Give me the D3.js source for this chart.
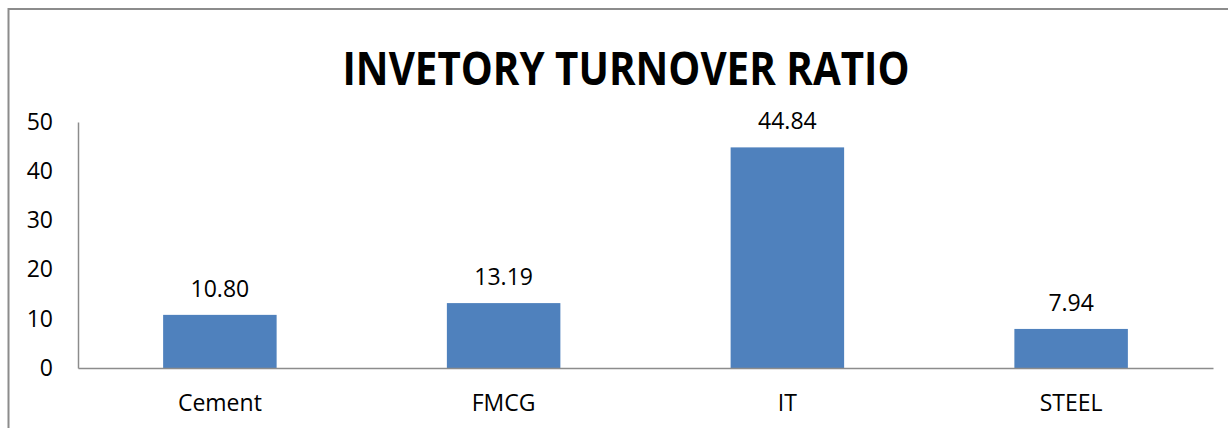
<!DOCTYPE html>
<html lang="en">
    <head>
        <meta charset="utf-8">
        <title>Inventory Turnover Ratio</title>
        <script src="https://d3js.org/d3.v7.min.js"></script>
        <style>
            body {
                margin: 0;
                background-color: #FFFFFF;
            }
            svg {
                display: block;
                font-family: "Open Sans", "Liberation Sans", sans-serif;
            }
        </style>
    </head>
    <body>
        <svg id="chart"></svg>

        <script>
            //data
            const categories = ["Cement", "FMCG", "IT", "STEEL"];
            const ratios = [10.80, 13.19, 44.84, 7.94];
            const yTicks = [0, 10, 20, 30, 40, 50];

            //chart dimensions
            const width = 1228;
            const height = 428;
            const plot = { left: 78, right: 1213, top: 122, bottom: 368 };
            const labelSize = 23;

            const svg = d3.select("#chart")
                .attr("width", width)
                .attr("height", height);

            //outer frame
            svg.append("rect")
                .attr("x", 8.5)
                .attr("y", 9)
                .attr("width", 1240)
                .attr("height", 440)
                .attr("fill", "none")
                .attr("stroke", "#8C8C8C")
                .attr("stroke-width", 2);

            //title
            svg.append("text")
                .attr("x", 626)
                .attr("y", 85)
                .attr("text-anchor", "middle")
                .attr("font-size", 47)
                .attr("font-weight", "bold")
                .attr("textLength", 567)
                .attr("lengthAdjust", "spacingAndGlyphs")
                .attr("fill", "#000")
                .text("INVETORY TURNOVER RATIO");

            //x and y scale
            const xScale = d3.scaleBand()
                .domain(categories)
                .range([plot.left, plot.right])
                .paddingInner(0.6)
                .paddingOuter(0.3);

            const yScale = d3.scaleLinear()
                .domain([0, 50])
                .range([plot.bottom, plot.top]);

            //y axis
            const yAxis = d3.axisLeft(yScale)
                .tickValues(yTicks)
                .tickSize(0)
                .tickPadding(25);

            const gy = svg.append("g")
                .attr("transform", `translate(${plot.left}, 0)`)
                .call(yAxis);
            gy.select(".domain").attr("stroke", "#8C8C8C").attr("stroke-width", 1.5);
            gy.selectAll("text")
                .attr("font-size", labelSize)
                .attr("font-family", "Open Sans, sans-serif")
                .attr("fill", "#000");

            //bars
            svg.selectAll(".bar")
                .data(ratios)
                .enter()
                .append("rect")
                .attr("class", "bar")
                .attr("x", (d, i) => xScale(categories[i]))
                .attr("y", d => yScale(d))
                .attr("width", xScale.bandwidth())
                .attr("height", d => plot.bottom - yScale(d))
                .attr("fill", "#4F81BD");

            //value labels
            svg.selectAll(".value")
                .data(ratios)
                .enter()
                .append("text")
                .attr("class", "value")
                .attr("x", (d, i) => xScale(categories[i]) + xScale.bandwidth() / 2)
                .attr("y", d => yScale(d) - 18)
                .attr("text-anchor", "middle")
                .attr("font-size", labelSize)
                .attr("fill", "#000")
                .text(d => d.toFixed(2));

            //x axis
            const xAxis = d3.axisBottom(xScale)
                .tickSize(0)
                .tickPadding(27);

            const gx = svg.append("g")
                .attr("transform", `translate(0, ${plot.bottom})`)
                .call(xAxis);
            gx.select(".domain").attr("stroke", "#8C8C8C").attr("stroke-width", 1.5);
            gx.selectAll("text")
                .attr("font-size", labelSize)
                .attr("font-family", "Open Sans, sans-serif")
                .attr("fill", "#000");
        </script>
    </body>
</html>
